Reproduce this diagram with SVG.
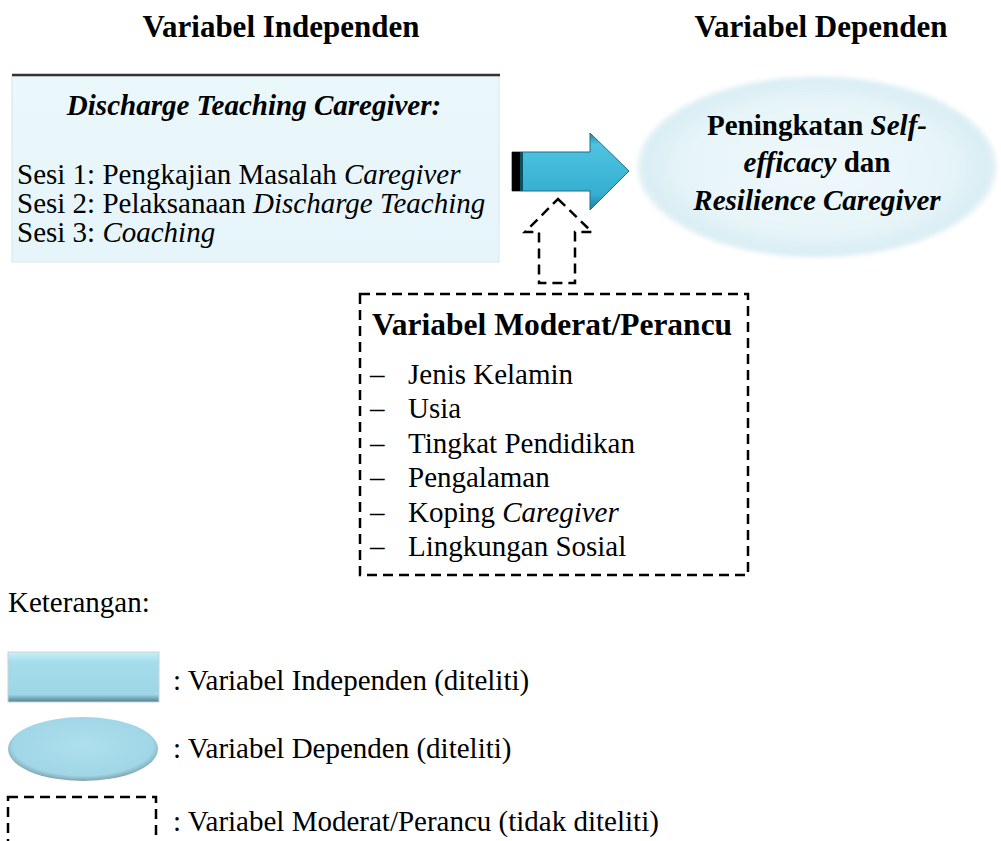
<svg xmlns="http://www.w3.org/2000/svg" width="1001" height="841" viewBox="0 0 1001 841" font-family="'Liberation Serif', 'Times New Roman', serif">
<style>
text{font-family:"Liberation Serif","Times New Roman",serif;fill:#000}
.h{font-size:31px;font-weight:bold}
.t{font-size:29px}
.b{font-weight:bold}
.i{font-style:italic}
.dash{fill:none;stroke:#000;stroke-width:2.5;stroke-dasharray:10 6}
</style>
<defs>
<linearGradient id="boxg" x1="0" y1="0" x2="0" y2="1">
<stop offset="0" stop-color="#eaf7fb"/><stop offset="1" stop-color="#e6f5fa"/>
</linearGradient>
<radialGradient id="ellg" cx="0.5" cy="0.5" r="0.5">
<stop offset="0" stop-color="#f0f9fc"/><stop offset="0.75" stop-color="#e6f4f8"/><stop offset="0.95" stop-color="#d9eef4"/><stop offset="1" stop-color="#e8f4f7"/>
</radialGradient>
<filter id="soft" x="-5%" y="-5%" width="110%" height="110%"><feGaussianBlur stdDeviation="2"/></filter>
<linearGradient id="arrg" x1="0" y1="0" x2="0" y2="1">
<stop offset="0" stop-color="#1e87a8"/><stop offset="0.15" stop-color="#4fc3e0"/><stop offset="0.8" stop-color="#34aed0"/><stop offset="1" stop-color="#1c7f9e"/>
</linearGradient>
<linearGradient id="legr" x1="0" y1="0" x2="0" y2="1">
<stop offset="0" stop-color="#c8f0f8"/><stop offset="0.2" stop-color="#a5dcea"/><stop offset="0.85" stop-color="#9dd6e6"/><stop offset="1" stop-color="#4f7f8e"/>
</linearGradient>
<radialGradient id="lege" cx="0.5" cy="0.45" r="0.55">
<stop offset="0" stop-color="#aee0ee"/><stop offset="0.85" stop-color="#a0d6e6"/><stop offset="1" stop-color="#7ea3ae"/>
</radialGradient>
</defs>

<g id="title-independen"><text class="h" x="281" y="37" text-anchor="middle">Variabel Independen</text></g>
<g id="title-dependen"><text class="h" x="821" y="37" text-anchor="middle">Variabel Dependen</text></g>

<g id="node-independen">
<rect x="12" y="76" width="487" height="186" fill="url(#boxg)" stroke="#d6e6ea" stroke-width="1"/>
<line x1="12" y1="75" x2="500" y2="75" stroke="#333" stroke-width="2.5"/>
<text class="t b i" x="254" y="115" text-anchor="middle">Discharge Teaching Caregiver:</text>
<text class="t" x="17" y="184">Sesi 1: Pengkajian Masalah <tspan class="i">Caregiver</tspan></text>
<text class="t" x="17" y="213">Sesi 2: Pelaksanaan <tspan class="i">Discharge Teaching</tspan></text>
<text class="t" x="17" y="242">Sesi 3: <tspan class="i">Coaching</tspan></text>
</g>

<g id="node-dependen">
<ellipse cx="817" cy="167" rx="180" ry="91" fill="url(#ellg)" filter="url(#soft)"/>
<text class="t b" x="817" y="135" text-anchor="middle">Peningkatan <tspan class="i">Self-</tspan></text>
<text class="t b" x="817" y="172" text-anchor="middle"><tspan class="i">efficacy</tspan> dan</text>
<text class="t b i" x="817" y="210" text-anchor="middle">Resilience Caregiver</text>
</g>

<g id="node-moderat">
<rect class="dash" x="360" y="294" width="388" height="281"/>
<text class="b" x="372" y="335" style="font-size:31.5px">Variabel Moderat/Perancu</text>
<text class="t" x="370" y="384">–</text><text class="t" x="408" y="384">Jenis Kelamin</text>
<text class="t" x="370" y="418">–</text><text class="t" x="408" y="418">Usia</text>
<text class="t" x="370" y="453">–</text><text class="t" x="408" y="453">Tingkat Pendidikan</text>
<text class="t" x="370" y="487">–</text><text class="t" x="408" y="487">Pengalaman</text>
<text class="t" x="370" y="522">–</text><text class="t" x="408" y="522">Koping <tspan class="i">Caregiver</tspan></text>
<text class="t" x="370" y="556">–</text><text class="t" x="408" y="556">Lingkungan Sosial</text>
</g>

<g id="connectors">
<g id="arrow-main">
<path d="M512 152 H590 V133 L629 171 L590 210 V191 H512 Z" fill="url(#arrg)" stroke="#1a6f88" stroke-width="1"/>
<rect x="512" y="152" width="8" height="39" fill="#000"/>
<rect x="520" y="152" width="3" height="39" fill="#0d4f63"/>
</g>
<path id="arrow-moderat" class="dash" d="M558 199 L592 232 H575 V283 H539 V232 H525 Z"/>
</g>

<g id="legend">
<text class="t" x="8" y="612">Keterangan:</text>
<rect x="8" y="652" width="151" height="50" fill="url(#legr)" stroke="#c7d4d8" stroke-width="1"/>
<text class="t" x="173" y="690">: Variabel Independen (diteliti)</text>
<ellipse cx="83" cy="749" rx="75" ry="32" fill="url(#lege)"/>
<text class="t" x="173" y="758">: Variabel Dependen (diteliti)</text>
<rect class="dash" x="8" y="797" width="148" height="70"/>
<text class="t" x="173" y="831">: Variabel Moderat/Perancu (tidak diteliti)</text>
</g>
</svg>
